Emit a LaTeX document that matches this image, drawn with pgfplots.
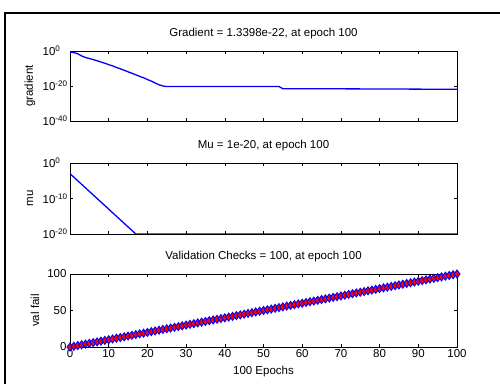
\documentclass[border=0pt]{standalone}
\usepackage{pgfplots}
\pgfplotsset{compat=1.18}
\usepackage{fontspec}
\setmainfont{Liberation Sans}
\newcommand{\lbl}{\fontsize{11.5bp}{13.5bp}\selectfont}
\newcommand{\tl}[1]{10\rlap{\textsuperscript{#1}}}
\pgfplotsset{
  mlab/.style={
    scale only axis, width=387bp, anchor=south west,
    xmin=0, xmax=100, xtick={0,10,...,100},
    tick align=inside, major tick length=3bp,
    axis line style={line width=0.8bp},
    tick style={black, line width=0.6bp},
    ticklabel style={font=\lbl},
    label style={font=\lbl},
    title style={font=\lbl, at={(0.5,1)}, anchor=south, yshift=3bp},
    /pgf/number format/assume math mode=true,
  }
}
\begin{document}
\begin{tikzpicture}
\useasboundingbox (0,0) rectangle (500bp,384bp);
\fill[white] (0,0) rectangle (500bp,384bp);
\draw[line width=2bp] (5bp,0) -- (5bp,371bp) -- (500bp,371bp);

% ---------------- gradient
\begin{axis}[mlab, at={(70bp,263bp)}, height=70bp,
  ymode=log, ymin=1e-40, ymax=1,
  ytick={1,1e-20,1e-40}, yticklabels={\tl{0},\tl{-20},\tl{-40}},
  yticklabel style={xshift=-11bp},
  xticklabels={},
  title={Gradient = 1.3398e-22, at epoch 100},
  ylabel={gradient},
  ylabel style={at={(axis description cs:-0.1034,0.5)}, anchor=center},
]
\addplot[blue, line width=1.3bp] coordinates {
(0,2.5e-1) (1,1.26e-1) (2,2.5e-2) (3,1.6e-3) (4,2.0e-4) (5,5.0e-5)
(6,1.26e-5) (7,2.5e-6) (8,5.0e-7) (9,1.0e-7) (10,1.6e-8) (11,3.2e-9)
(12,4.0e-10) (13,6.3e-11) (14,1.0e-11) (15,1.26e-12) (16,2.0e-13)
(17,2.5e-14) (18,3.2e-15) (19,5.0e-16) (20,5.0e-17) (21,6.3e-18)
(22,5.0e-19) (23,5.0e-20) (24,1.0e-20) (25,5.0e-21) (30,5.1e-21)
(40,4.9e-21) (50,5.0e-21) (54,4.8e-21) (55,3.0e-22) (60,2.8e-22)
(70,2.4e-22) (80,2.0e-22) (90,1.6e-22) (100,1.3398e-22)
};
\end{axis}

% ---------------- mu
\begin{axis}[mlab, at={(70bp,150bp)}, height=71bp,
  ymode=log, ymin=1e-20, ymax=1,
  ytick={1,1e-10,1e-20}, yticklabels={\tl{0},\tl{-10},\tl{-20}},
  yticklabel style={xshift=-11bp},
  xticklabels={},
  title={Mu = 1e-20, at epoch 100},
  ylabel={mu},
  ylabel style={at={(axis description cs:-0.1034,0.5)}, anchor=center},
]
\addplot[blue, line width=1.3bp] coordinates {
(0,1e-3) (1,1e-4) (2,1e-5) (3,1e-6) (4,1e-7) (5,1e-8) (6,1e-9)
(7,1e-10) (8,1e-11) (9,1e-12) (10,1e-13) (11,1e-14) (12,1e-15)
(13,1e-16) (14,1e-17) (15,1e-18) (16,1e-19) (17,1e-20) (100,1e-20)
};
\end{axis}

% ---------------- val fail
\begin{axis}[mlab, at={(70bp,37bp)}, height=73bp,
  ymin=0, ymax=100, ytick={0,50,100},
  title={Validation Checks = 100, at epoch 100},
  ylabel={val fail},
  ylabel style={at={(axis description cs:-0.0904,0.5)}, anchor=center},
  xlabel={100 Epochs},
  xlabel style={at={(axis description cs:0.5,-0.3425)}, anchor=center},
  xticklabel style={yshift=1bp},
  clip=false,
]
\addplot[blue, line width=1bp, mark=diamond*, mark size=4bp,
  mark options={fill=red, draw=blue, line width=0.9bp}] coordinates {
(0,0) (1,1) (2,2) (3,3) (4,4) (5,5) (6,6) (7,7) (8,8) (9,9)
(10,10) (11,11) (12,12) (13,13) (14,14) (15,15) (16,16) (17,17) (18,18) (19,19)
(20,20) (21,21) (22,22) (23,23) (24,24) (25,25) (26,26) (27,27) (28,28) (29,29)
(30,30) (31,31) (32,32) (33,33) (34,34) (35,35) (36,36) (37,37) (38,38) (39,39)
(40,40) (41,41) (42,42) (43,43) (44,44) (45,45) (46,46) (47,47) (48,48) (49,49)
(50,50) (51,51) (52,52) (53,53) (54,54) (55,55) (56,56) (57,57) (58,58) (59,59)
(60,60) (61,61) (62,62) (63,63) (64,64) (65,65) (66,66) (67,67) (68,68) (69,69)
(70,70) (71,71) (72,72) (73,73) (74,74) (75,75) (76,76) (77,77) (78,78) (79,79)
(80,80) (81,81) (82,82) (83,83) (84,84) (85,85) (86,86) (87,87) (88,88) (89,89)
(90,90) (91,91) (92,92) (93,93) (94,94) (95,95) (96,96) (97,97) (98,98) (99,99)
(100,100)
};
\end{axis}
\end{tikzpicture}
\end{document}
